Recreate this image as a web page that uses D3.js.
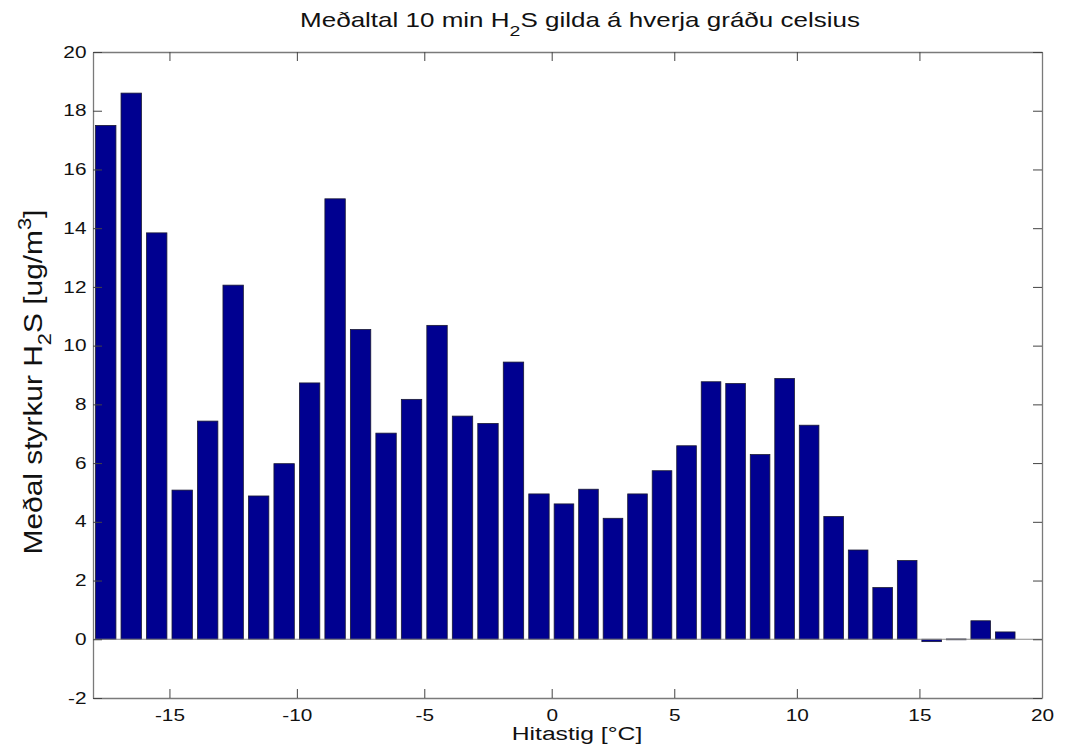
<!DOCTYPE html>
<html>
<head>
<meta charset="utf-8">
<script src="https://cdn.jsdelivr.net/npm/d3@7"></script>
<style>
  body { margin: 0; background: #fff; }
  svg text { font-family: "Liberation Sans", Arial, sans-serif; fill: #111; }
</style>
</head>
<body>
<div id="chart"></div>
<script>
'use strict';

// bin centres in degrees C (one bar per degree)
const temps = [
    -17.5, -16.5, -15.5, -14.5, -13.5, -12.5, -11.5, -10.5, -9.5, -8.5,
    -7.5, -6.5, -5.5, -4.5, -3.5, -2.5, -1.5, -0.5, 0.5, 1.5,
    2.5, 3.5, 4.5, 5.5, 6.5, 7.5, 8.5, 9.5, 10.5, 11.5,
    12.5, 13.5, 14.5, 15.5, 16.5, 17.5, 18.5
];

// mean H2S concentration [ug/m3]
const meanH2S = [
    17.5, 18.6, 13.84, 5.08, 7.43, 12.06, 4.88, 5.98, 8.73, 15.0,
    10.55, 7.02, 8.17, 10.69, 7.6, 7.35, 9.44, 4.95, 4.61, 5.11,
    4.12, 4.95, 5.74, 6.59, 8.77, 8.71, 6.29, 8.88, 7.29, 4.18,
    3.04, 1.76, 2.68, -0.08, 0.01, 0.63, 0.25
];

const xTicks = [-15, -10, -5, 0, 5, 10, 15, 20];
const yTicks = [-2, 0, 2, 4, 6, 8, 10, 12, 14, 16, 18, 20];

function buildChart() {

    const width = 1082;
    const height = 751;

    const left = 93;
    const right = 1042;
    const top = 52;
    const bottom = 698;

    // the picture is stretched sideways, text included
    const stretch = 1.3;

    const barColor = '#000090';
    const axisColor = '#7a7a7a';
    const tickLen = 9;

    const svg = d3.select('#chart')
        .append('svg')
            .attr('width', width)
            .attr('height', height);

    const x = d3.scaleLinear()
        .domain([-18, 0, 20])
        .range([left, 551.7, right]);

    const y = d3.scaleLinear()
        .domain([-2, 20])
        .range([bottom, top]);

    const data = temps.map((t, i) => ({ t, v: meanH2S[i] }));

    // bars, width 0.8 of a bin like matlab
    svg.append('g')
        .selectAll('rect')
        .data(data)
            .enter()
            .append('rect')
                .attr('x', d => x(d.t - 0.4))
                .attr('width', d => x(d.t + 0.4) - x(d.t - 0.4))
                .attr('y', d => y(Math.max(0, d.v)))
                .attr('height', d => Math.max(0.8, Math.abs(y(d.v) - y(0))))
                .attr('fill', barColor)
                .attr('stroke', '#1a1a33')
                .attr('stroke-width', 0.8);

    // baseline at zero
    svg.append('line')
        .attr('x1', left).attr('x2', right)
        .attr('y1', y(0)).attr('y2', y(0))
        .attr('stroke', '#8a8a8a')
        .attr('stroke-width', 1.2);

    const plain = d => String(d);

    // axes box with inward ticks
    svg.append('g')
        .attr('transform', `translate(0,${bottom})`)
        .call(d3.axisBottom(x).tickValues(xTicks).tickFormat(plain)
            .tickSizeInner(-tickLen).tickSizeOuter(0).tickPadding(12))
        .call(g => g.selectAll('text')
            .attr('font-size', 16)
            .attr('transform', `scale(${stretch},1)`));

    svg.append('g')
        .attr('transform', `translate(0,${top})`)
        .call(d3.axisTop(x).tickValues(xTicks).tickSizeInner(-tickLen).tickSizeOuter(0).tickFormat(''));

    const yPad = 6.5;
    svg.append('g')
        .attr('transform', `translate(${left},0)`)
        .call(d3.axisLeft(y).tickValues(yTicks).tickFormat(plain)
            .tickSizeInner(-tickLen).tickSizeOuter(0).tickPadding(yPad))
        .call(g => g.selectAll('text')
            .attr('font-size', 16)
            .attr('x', -yPad / stretch)
            .attr('transform', `scale(${stretch},1)`));

    svg.append('g')
        .attr('transform', `translate(${right},0)`)
        .call(d3.axisRight(y).tickValues(yTicks).tickSizeInner(-tickLen).tickSizeOuter(0).tickFormat(''));

    svg.selectAll('.domain').attr('stroke', axisColor).attr('stroke-width', 1.3);
    svg.selectAll('.tick line').attr('stroke', '#444').attr('stroke-width', 1);
    svg.selectAll('.tick text').attr('fill', '#111').attr('font-family', '"Liberation Sans", Arial, sans-serif');

    // title
    const title = svg.append('text')
        .attr('transform', `translate(580,27) scale(${stretch},1)`)
        .attr('text-anchor', 'middle')
        .attr('font-size', 20);
    title.append('tspan').text('Meðaltal 10 min H');
    title.append('tspan').attr('dy', 9).attr('font-size', 15).text('2');
    title.append('tspan').attr('dy', -9).text('S gilda á hverja gráðu celsius');

    // x label
    svg.append('text')
        .attr('transform', `translate(577,740) scale(${stretch},1)`)
        .attr('text-anchor', 'middle')
        .attr('font-size', 19)
        .text('Hitastig [°C]');

    // y label, a bit longer along its run than across
    const yLabel = svg.append('text')
        .attr('transform', 'translate(41.5,382) rotate(-90) scale(1.15,1)')
        .attr('text-anchor', 'middle')
        .attr('font-size', 26);
    yLabel.append('tspan').text('Meðal styrkur H');
    yLabel.append('tspan').attr('dy', 9).attr('font-size', 19).text('2');
    yLabel.append('tspan').attr('dy', -9).text('S [ug/m');
    yLabel.append('tspan').attr('dy', -11).attr('font-size', 19).text('3');
    yLabel.append('tspan').attr('dy', 11).text(']');
}

window.addEventListener('DOMContentLoaded', () => {
    buildChart();
});
</script>
</body>
</html>
